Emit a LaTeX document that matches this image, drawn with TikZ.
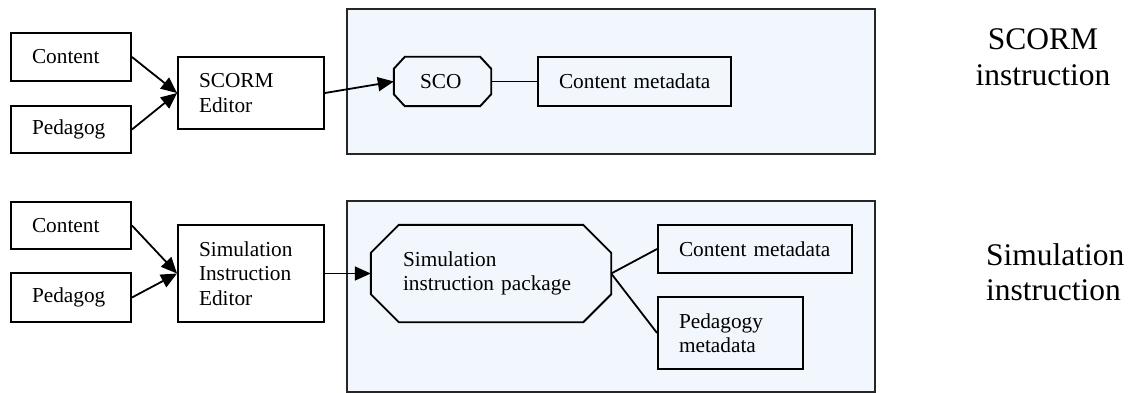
\documentclass[tikz,border=0pt]{standalone}
\usepackage{fontspec}
\setmainfont{Liberation Serif}
\usetikzlibrary{arrows.meta,calc}

\definecolor{panelfill}{RGB}{242,247,253}

\begin{document}
\begin{tikzpicture}[x=1pt,y=-1pt,
  every node/.style={font=\fontsize{21.3}{24.5}\selectfont},
  box/.style={draw, line width=1.9pt, rectangle, inner xsep=21pt, inner ysep=0pt, align=left},
  octbase/.style={rectangle, inner ysep=0pt, align=left},
  octline/.style={line width=1.9pt},
  panel/.style={draw=black!85, line width=2pt, fill=panelfill, inner sep=0pt},
  flow/.style={-{Triangle[length=16pt,width=14pt]}, line width=1.8pt},
  link/.style={line width=1.8pt},
  biglabel/.style={font=\fontsize{31.5}{35.5}\selectfont, inner sep=0pt}
]
\useasboundingbox (0,0) rectangle (1130,393);

% containers
\node[panel, minimum width=528pt, minimum height=145pt] (scormpanel) at (611,81.5) {};
\node[panel, minimum width=528pt, minimum height=191pt] (simpanel) at (611,296.5) {};

% ---- SCORM row ----
\node[box, text width=78pt, minimum height=48pt] (content1) at (71,57) {Content};
\node[box, text width=78pt, minimum height=47pt] (pedagog1) at (71,129.5) {Pedagog};
\node[box, text width=104pt, minimum height=72pt] (editor1) at (251,93) {SCORM\\Editor};
\node[octbase, inner xsep=26pt, text width=45pt, minimum height=49pt] (sco) at (442.5,81.5) {SCO};
\draw[octline] ($(sco.north west)+(11,0)$) -- ($(sco.north east)+(-11,0)$)
  -- ($(sco.north east)+(0,12)$) -- ($(sco.south east)+(0,-12)$)
  -- ($(sco.south east)+(-11,0)$) -- ($(sco.south west)+(11,0)$)
  -- ($(sco.south west)+(0,-12)$) -- ($(sco.north west)+(0,12)$) -- cycle;
\node[box, text width=151pt, minimum height=49pt] (cmeta1) at (634.5,81.5) {\mbox{Content metadata}};

\draw[flow] (content1.east) -- (editor1.west);
\draw[flow] (pedagog1.east) -- (editor1.west);
\draw[flow] (editor1.east) -- (sco.west);
\draw[link] (sco.east) -- (cmeta1.west);

% ---- Simulation row ----
\node[box, text width=78pt, minimum height=47pt] (content2) at (71,225.5) {Content};
\node[box, text width=78pt, minimum height=49pt] (pedagog2) at (71,297.5) {Pedagog};
\node[box, text width=104pt, minimum height=97pt] (editor2) at (251,273.5) {Simulation\\Instruction\\Editor};
\node[octbase, inner xsep=32pt, text width=176pt, minimum height=97pt] (package) at (491,273.5) {Simulation\\\mbox{instruction package}};
\draw[octline] ($(package.north west)+(28,0)$) -- ($(package.north east)+(-28,0)$)
  -- ($(package.north east)+(0,28)$) -- ($(package.south east)+(0,-28)$)
  -- ($(package.south east)+(-28,0)$) -- ($(package.south west)+(28,0)$)
  -- ($(package.south west)+(0,-28)$) -- ($(package.north west)+(0,28)$) -- cycle;
\node[box, text width=152pt, minimum height=48pt] (cmeta2) at (755,249) {\mbox{Content metadata}};
\node[box, text width=103pt, minimum height=72pt] (pmeta2) at (730.5,333) {Pedagogy\\metadata};

\draw[flow] (content2.east) -- (editor2.west);
\draw[flow] (pedagog2.east) -- (editor2.west);
\draw[flow] (editor2.east) -- (package.west);
\draw[link] (package.east) -- (cmeta2.west);
\draw[link] (package.east) -- (pmeta2.west);

% ---- side labels ----
\node[biglabel, align=center] (scormlabel) at (1043,57) {SCORM\\instruction};
\node[biglabel, align=left, anchor=west] (simlabel) at (986,272) {Simulation\\instruction};
\end{tikzpicture}
\end{document}
